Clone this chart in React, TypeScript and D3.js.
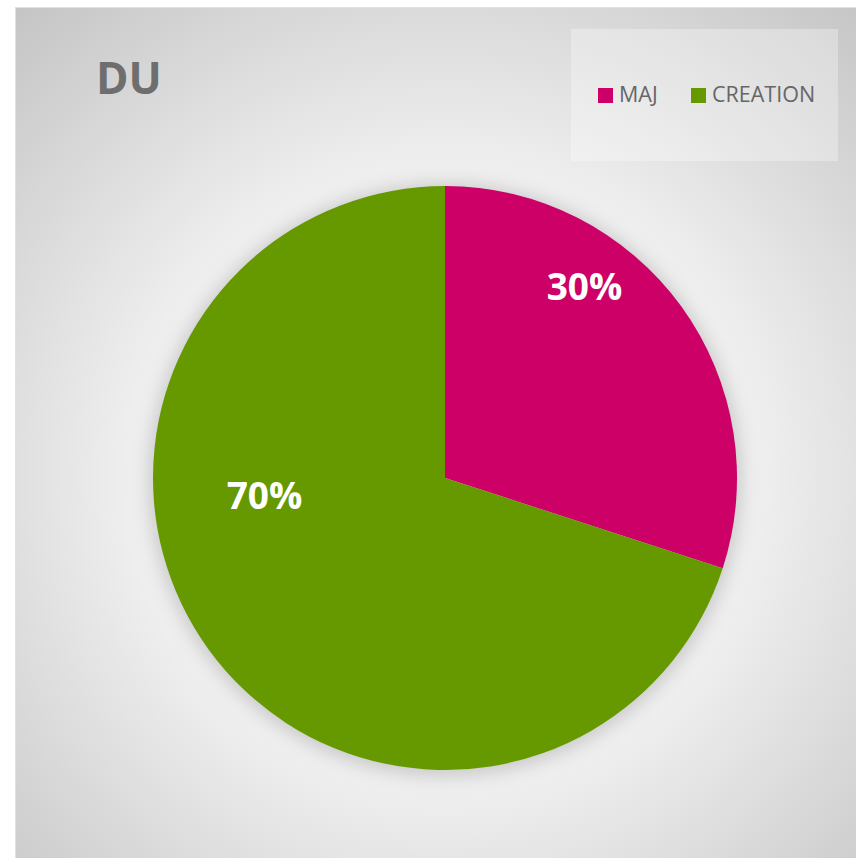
import React from "react";
import * as d3 from "d3";

const categories = ["MAJ", "CREATION"];
const values = [30, 70];
const colors = ["#CC0066", "#669900"];
const title = "DU";

export default function App() {
  const W = 856, H = 858;
  const cx = 445, cy = 478, r = 292;
  const pie = d3.pie<number>().sort(null).value((d) => d)(values);
  const arc = d3.arc<d3.PieArcDatum<number>>().innerRadius(0).outerRadius(r);
  const total = d3.sum(values);
  const labelArc = d3.arc<d3.PieArcDatum<number>>().innerRadius(r * 0.62).outerRadius(r * 0.62);
  const font = "'Open Sans', sans-serif";
  const legendX = [598, 691];
  const labelAdj = [[-7, -72], [-34, -75]];
  return (
    <svg width={W} height={H} style={{ position: "absolute", left: 0, top: 0 }}>
      <defs>
        <radialGradient id="bg" gradientUnits="userSpaceOnUse" cx={cx} cy={cy} r={640}>
          <stop offset="0" stopColor="#ffffff" />
          <stop offset="0.5" stopColor="#eeeeee" />
          <stop offset="1" stopColor="#c4c4c4" />
        </radialGradient>
        <filter id="sh" x="-20%" y="-20%" width="140%" height="140%">
          <feGaussianBlur stdDeviation="9" />
        </filter>
      </defs>
      <rect x={0} y={0} width={W} height={H} fill="#ffffff" />
      <rect x={15.5} y={7.5} width={W} height={H} fill="url(#bg)" stroke="#e2e2e2" strokeWidth={1} />
      <text x={96} y={94} fontFamily={font} fontWeight="bold" fontSize={44} fill="#6e6e6e">{title}</text>
      <rect x={571} y={29} width={267} height={132} fill="#ffffff" fillOpacity={0.3} />
      {categories.map((c, i) => {
        const xs = legendX[i];
        return (
          <g key={c}>
            <rect x={xs} y={88} width={15} height={15} fill={colors[i]} />
            <text x={xs + 21} y={102} fontFamily={font} fontSize={21.5} fill="#666666">{c}</text>
          </g>
        );
      })}
      <circle cx={cx} cy={cy + 2} r={r + 4} fill="#9a9a9a" opacity={0.45} filter="url(#sh)" />
      <g transform={`translate(${cx},${cy})`}>
        {pie.map((p, i) => (
          <path key={i} d={arc(p) || ""} fill={colors[i]} />
        ))}
        {pie.map((p, i) => {
          const [lx, ly] = labelArc.centroid(p);
          const adj = labelAdj[i];
          return (
            <text key={"l" + i} x={lx + adj[0]} y={ly + adj[1]} textAnchor="middle"
              fontFamily={font} fontWeight="bold" fontSize={37} fill="#ffffff">
              {Math.round((values[i] / total) * 100)}%
            </text>
          );
        })}
      </g>
    </svg>
  );
}
